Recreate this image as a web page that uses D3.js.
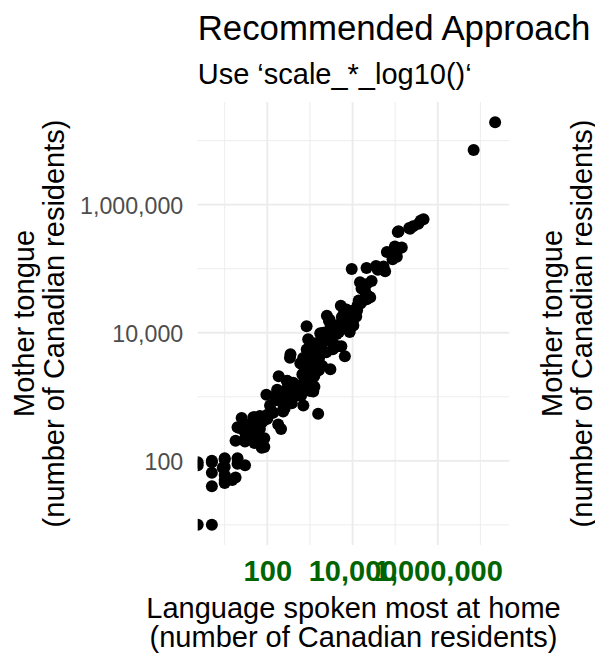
<!DOCTYPE html>
<html>
<head>
<meta charset="utf-8">
<script src="https://cdn.jsdelivr.net/npm/d3@7"></script>
<style>
  html, body { margin: 0; padding: 0; background: #ffffff; }
  svg { display: block; }
  text { font-family: "Liberation Sans", Arial, Helvetica, sans-serif; }
</style>
</head>
<body>
<svg id="chart" width="595" height="658"></svg>
<script>
// ---------------- data ----------------
const chartTitle = "Recommended Approach";
const chartSubtitle = "Use \u2018scale_*_log10()\u2018";
const xTitleLines = ["Language spoken most at home", "(number of Canadian residents)"];
const yTitleLines = ["Mother tongue", "(number of Canadian residents)"];

const majorBreaks = [100, 10000, 1000000];
const minorBreaks = [10, 1000, 100000, 10000000];

// number of Canadian residents speaking the language most at home
const mostAtHome = [
  22162865, 6943800, 462890, 400220, 349140, 263505, 213790, 223535, 120335, 115130,
  98385, 143025, 130315, 106230, 63975, 104060, 109345, 86830, 35520, 53350,
  38040, 21285, 9565, 39105, 58160, 28000, 14960, 21140, 16250, 19785,
  21005, 24335, 26010, 21510, 18955, 13965, 15440, 13135, 5300, 12785,
  6305, 10040, 10385, 10885, 2500, 7200, 10590, 10435, 5960, 7040,
  10510, 6855, 2790, 5610, 6175, 8980, 5985, 4685, 5490, 10455,
  7650, 7735, 835, 3910, 5175, 3005, 6030, 3020, 3715, 4785,
  8585, 2785, 1745, 2745, 4255, 3375, 2615, 2740, 2810, 2015,
  1545, 1340, 3565, 4490, 5465, 900, 3445, 1690, 1530, 6600,
  2410, 350, 1065, 1595, 695, 1290, 1630, 1315, 1005, 1440,
  340, 1335, 595, 1245, 1610, 1410, 660, 1345, 1950, 865,
  1110, 3020, 1085, 1610, 1400, 1210, 1110, 665, 1085, 1270,
  185, 800, 290, 290, 995, 300, 1105, 1275, 930, 345,
  345, 365, 300, 620, 640, 170, 370, 1010, 445, 1195,
  420, 445, 165, 95, 435, 475, 620, 250, 440, 255,
  1560, 160, 155, 225, 375, 250, 700, 255, 235, 135,
  100, 50, 25, 100, 50, 50, 75, 60, 35, 20,
  22, 210, 30, 40, 50, 85, 30, 30, 50, 80,
  85, 18, 20, 10, 10, 5, 5, 0, 0, 20,
  10, 30, 5, 10, 18, 10, 15, 10, 5, 5,
  0, 9, 67, 97, 138, 180, 237, 340, 285, 405,
  700, 1190, 1190, 840, 910, 2050, 3500, 2900, 12200, 74,
  56, 33, 116, 47, 67
];

// number of Canadian residents with the language as mother tongue
const motherTongue = [
  19460850, 7166700, 592040, 565270, 501680, 458850, 431385, 419890, 384040, 375645,
  221535, 214200, 210815, 188255, 181710, 156430, 153425, 140720, 110645, 108780,
  106525, 102485, 99015, 96660, 91220, 64050, 61235, 57350, 49300, 43640,
  38580, 36755, 35690, 33460, 32815, 31800, 28565, 26895, 26345, 22465,
  22300, 22085, 20500, 20130, 18500, 23000, 16905, 16645, 16770, 16335,
  16070, 15655, 15295, 17580, 17885, 13555, 13460, 13370, 13150, 13005,
  12915, 12855, 12630, 12275, 12215, 11860, 11705, 11300, 10910, 10260,
  10235, 9795, 9785, 9535, 9550, 9255, 9080, 8295, 7700, 7075,
  6880, 6840, 6690, 6160, 6150, 5565, 5545, 5445, 5250, 4300,
  4960, 4615, 4235, 4195, 4045, 3990, 3970, 3915, 3895, 3795,
  4080, 3455, 3330, 3255, 3245, 3245, 3185, 3065, 3025, 2825,
  2815, 2685, 2595, 2585, 2530, 2495, 2350, 2250, 2160, 2120,
  2100, 1840, 1785, 1760, 1720, 1670, 1650, 1440, 1440, 1535,
  1430, 1425, 1390, 1320, 1315, 1285, 1260, 1230, 1210, 1205,
  1160, 1150, 1110, 1075, 1080, 1055, 1035, 1025, 1020, 985,
  545, 920, 880, 810, 795, 720, 730, 655, 590, 565,
  525, 480, 465, 458, 445, 420, 400, 370, 365, 335,
  325, 315, 280, 275, 255, 225, 220, 200, 190, 170,
  165, 205, 110, 110, 105, 100, 95, 95, 85, 90,
  80, 85, 65, 60, 55, 50, 50, 45, 40, 10,
  10, 78, 315, 450, 570, 370, 640, 920, 1150, 1650,
  1650, 1250, 2400, 5500, 7900, 10000, 10000, 16000, 18000, 160,
  250, 235, 730, 480, 500
];

// ---------------- layout ----------------
const W = 595, H = 658;
const panel = { left: 197.7, right: 509.3, top: 102, bottom: 545 };
const baseSize = 29;

const svg = d3.select("#chart");

// ggplot-like 5% expansion of the log range of the finite values
function expandedLogDomain(values) {
  const pos = values.filter(v => v > 0);
  const lo = Math.log10(d3.min(pos)), hi = Math.log10(d3.max(pos));
  const pad = (hi - lo) * 0.05;
  return [Math.pow(10, lo - pad), Math.pow(10, hi + pad)];
}

const x = d3.scaleLog().domain(expandedLogDomain(mostAtHome)).range([panel.left, panel.right]);
const y = d3.scaleLog().domain(expandedLogDomain(motherTongue)).range([panel.bottom, panel.top]);

// zero values map to -Inf, drawn on the panel edge (as ggplot does)
const px = v => v > 0 ? x(v) : x.range()[0];
const py = v => v > 0 ? y(v) : y.range()[0];

// ---------------- grid ----------------
const grid = svg.append("g");
const gridColor = "#EBEBEB";
grid.selectAll("line.vminor").data(minorBreaks).join("line")
  .attr("x1", d => x(d)).attr("x2", d => x(d))
  .attr("y1", panel.top).attr("y2", panel.bottom)
  .attr("stroke", gridColor).attr("stroke-width", 0.9);
grid.selectAll("line.hminor").data(minorBreaks).join("line")
  .attr("y1", d => y(d)).attr("y2", d => y(d))
  .attr("x1", panel.left).attr("x2", panel.right)
  .attr("stroke", gridColor).attr("stroke-width", 0.9);
grid.selectAll("line.vmajor").data(majorBreaks).join("line")
  .attr("x1", d => x(d)).attr("x2", d => x(d))
  .attr("y1", panel.top).attr("y2", panel.bottom)
  .attr("stroke", gridColor).attr("stroke-width", 1.8);
grid.selectAll("line.hmajor").data(majorBreaks).join("line")
  .attr("y1", d => y(d)).attr("y2", d => y(d))
  .attr("x1", panel.left).attr("x2", panel.right)
  .attr("stroke", gridColor).attr("stroke-width", 1.8);

// ---------------- points ----------------
svg.append("clipPath").attr("id", "panelClip")
  .append("rect")
  .attr("x", panel.left).attr("y", panel.top)
  .attr("width", panel.right - panel.left).attr("height", panel.bottom - panel.top);

const pts = mostAtHome.map((h, i) => ({ home: h, mother: motherTongue[i] }));
svg.append("g").attr("clip-path", "url(#panelClip)")
  .selectAll("circle").data(pts).join("circle")
  .attr("cx", d => px(d.home))
  .attr("cy", d => py(d.mother))
  .attr("r", 6)
  .attr("fill", "#000000");

// ---------------- axes ----------------
const fmt = d3.format(",");

const xAxis = svg.append("g")
  .attr("transform", `translate(0,${panel.bottom})`)
  .call(d3.axisBottom(x).tickValues(majorBreaks).tickFormat(fmt).tickSize(0).tickPadding(0));
xAxis.select(".domain").remove();
xAxis.selectAll("text")
  .attr("y", 36).attr("dy", null)
  .attr("font-size", baseSize).attr("font-weight", "bold")
  .attr("fill", "#006400")
  .attr("font-family", "Liberation Sans, Arial, sans-serif");

const yAxis = svg.append("g")
  .attr("transform", `translate(${panel.left},0)`)
  .call(d3.axisLeft(y).tickValues(majorBreaks).tickFormat(fmt).tickSize(0).tickPadding(0));
yAxis.select(".domain").remove();
yAxis.selectAll("text")
  .attr("x", -14.5).attr("dy", "0.36em")
  .attr("font-size", baseSize * 0.8)
  .attr("fill", "#4D4D4D")
  .attr("font-family", "Liberation Sans, Arial, sans-serif");

// ---------------- titles ----------------
svg.append("text").attr("x", panel.left).attr("y", 40)
  .attr("font-size", baseSize * 1.2).attr("fill", "#000")
  .text(chartTitle);
svg.append("text").attr("x", panel.left).attr("y", 84)
  .attr("font-size", baseSize).attr("fill", "#000")
  .text(chartSubtitle);

const xMid = (panel.left + panel.right) / 2;
svg.append("g").selectAll("text").data(xTitleLines).join("text")
  .attr("x", xMid).attr("y", (d, i) => 618 + i * 29)
  .attr("text-anchor", "middle").attr("font-size", baseSize).attr("fill", "#000")
  .text(d => d);

const yMid = (panel.top + panel.bottom) / 2;
function yTitle(baseX) {
  svg.append("g").selectAll("text").data(yTitleLines).join("text")
    .attr("transform", (d, i) => `translate(${baseX + i * 30},${yMid}) rotate(-90)`)
    .attr("text-anchor", "middle").attr("font-size", baseSize).attr("fill", "#000")
    .text(d => d);
}
yTitle(34);
yTitle(562);
</script>
</body>
</html>
